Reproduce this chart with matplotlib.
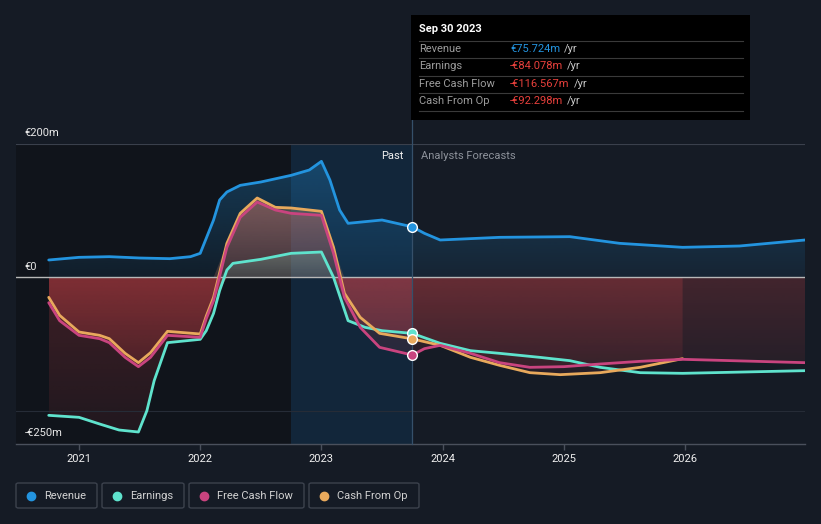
import numpy as np
import matplotlib
matplotlib.use("Agg")
import matplotlib.pyplot as plt
import matplotlib.colors as mcolors
from matplotlib.patches import Rectangle, FancyBboxPatch

plt.rcParams['font.family'] = ['Roboto', 'DejaVu Sans']

# data (decimal years, EUR millions)
rev_t = [2020.75, 2021.0, 2021.25, 2021.5, 2021.75, 2021.92, 2022.0, 2022.11, 2022.16, 2022.22,
         2022.33, 2022.5, 2022.75, 2022.9, 2023.0, 2023.07, 2023.15, 2023.22, 2023.5, 2023.75,
         2023.85, 2023.98, 2024.47, 2025.05, 2025.46, 2025.98, 2026.45, 2026.99]
rev_v = [26, 30, 31, 29, 28, 31, 36, 86, 116, 128,
         138, 143, 153, 161, 174, 146, 101, 81, 86, 75.724,
         66, 56, 60, 61, 51, 45, 47, 56]

earn_t = [2020.75, 2021.0, 2021.17, 2021.33, 2021.49, 2021.56, 2021.62, 2021.73, 2022.0, 2022.05,
          2022.11, 2022.16, 2022.22, 2022.27, 2022.5, 2022.75, 2023.0, 2023.1, 2023.22, 2023.36,
          2023.5, 2023.75, 2023.98, 2024.23, 2024.47, 2024.8, 2025.05, 2025.3, 2025.63, 2025.98,
          2026.99]
earn_v = [-207, -210, -220, -229, -232, -200, -155, -98, -93, -80,
          -54, -20, 11, 21, 27, 36, 38, 0, -65, -75,
          -80, -84.078, -99, -110, -114, -120, -125, -135, -143, -144,
          -140]

fcf_t = [2020.75, 2020.84, 2021.0, 2021.17, 2021.25, 2021.38, 2021.49, 2021.59, 2021.73, 2022.0,
         2022.05, 2022.11, 2022.22, 2022.33, 2022.47, 2022.62, 2022.75, 2023.0, 2023.1, 2023.19,
         2023.32, 2023.48, 2023.75, 2023.85, 2023.98, 2024.23, 2024.47, 2024.72, 2025.0, 2025.3,
         2025.63, 2025.98, 2026.99]
fcf_v = [-38, -65, -87, -92, -98, -120, -134, -120, -87, -90,
         -62, -35, 45, 90, 113, 101, 96, 93, 36, -30,
         -75, -105, -116.567, -107, -102, -114, -128, -135, -134, -130,
         -126, -123, -128]

cfo_t = [2020.75, 2020.84, 2021.0, 2021.17, 2021.25, 2021.38, 2021.49, 2021.59, 2021.73, 2022.0,
         2022.05, 2022.11, 2022.22, 2022.33, 2022.47, 2022.62, 2022.75, 2023.0, 2023.1, 2023.19,
         2023.32, 2023.48, 2023.75, 2023.98, 2024.23, 2024.47, 2024.72, 2024.97, 2025.3, 2025.63,
         2025.98]
cfo_v = [-30, -57, -82, -87, -92, -114, -128, -113, -81, -85,
         -58, -30, 51, 96, 119, 105, 104, 99, 45, -24,
         -60, -84, -92.298, -102, -120, -132, -143, -146, -143, -135,
         -122]

now = 2023.75
names = ["Revenue", "Earnings", "Free Cash Flow", "Cash From Op"]
tip_vals = ["€75.724m", "-€84.078m", "-€116.567m", "-€92.298m"]
years = [2021, 2022, 2023, 2024, 2025, 2026]

BG = "#151b25"
C_REV, C_EARN, C_FCF, C_CFO = "#2394df", "#5fe3cd", "#c9447f", "#e8a95c"
RED = "#e5484d"

W, H = 821, 524
fig = plt.figure(figsize=(W / 100, H / 100), dpi=100, facecolor=BG)


def px(x, y):
    return x / W, 1 - y / H


ax = fig.add_axes([16 / W, 1 - 444 / H, (805 - 16) / W, (444 - 144) / H])
ax.set_facecolor(BG)
XL = (2020.48, 2026.99)
YL = (-250, 200)


def grad_fill(t, v, color, a_zero, a_far, z=1):
    t = np.asarray(t, float)
    v = np.asarray(v, float)
    poly = ax.fill_between(t, 0, v, color="none", lw=0)
    path = poly.get_paths()[0]
    lo, hi = min(v.min(), 0), max(v.max(), 0)
    if hi - lo < 1e-6:
        return
    n = 128
    img = np.zeros((n, 1, 4))
    img[:, :, :3] = mcolors.to_rgb(color)
    if hi <= 0:
        img[:, 0, 3] = np.linspace(a_far, a_zero, n)
    else:
        img[:, 0, 3] = np.linspace(a_zero, a_far, n)
    im = ax.imshow(img, aspect="auto", extent=[t.min(), t.max(), lo, hi],
                   origin="lower", zorder=z, interpolation="bilinear")
    im.set_clip_path(path, ax.transData)


# background regions
ax.axvspan(XL[0], 2022.75, color="#10141b", zorder=0, lw=0)
ax.axvspan(2022.75, now, color="#12263a", zorder=0, lw=0)

# area fills
grad_fill(rev_t, rev_v, C_REV, 0.08, 0.30, z=1)

past = np.array(earn_t) <= now + 1e-9
et = np.array(earn_t)[past]
ev = np.array(earn_v)[past]
grad_fill(et, np.minimum(ev, 0), RED, 0.22, 0.08, z=2)
grad_fill(et, np.maximum(ev, 0), C_EARN, 0.12, 0.30, z=2)
for t, v, c in [(fcf_t, fcf_v, C_FCF), (cfo_t, cfo_v, C_CFO)]:
    grad_fill(t, np.minimum(v, 0), RED, 0.22, 0.08, z=2)
    grad_fill(t, np.maximum(v, 0), c, 0.12, 0.30, z=2)

# grid
ax.axhline(200, color="#3a404c", lw=0.8, zorder=3)
ax.axhline(-200, color="#262c37", lw=0.8, zorder=3)
ax.axhline(0, color="#b8b8b8", lw=1.0, zorder=4)

# lines
lw = 2.0
ax.plot(rev_t, rev_v, color=C_REV, lw=lw, zorder=6, solid_capstyle="round", solid_joinstyle="round")
ax.plot(earn_t, earn_v, color=C_EARN, lw=lw, zorder=6, solid_capstyle="round", solid_joinstyle="round")
ax.plot(cfo_t, cfo_v, color=C_CFO, lw=lw, zorder=6, solid_capstyle="round", solid_joinstyle="round")
ax.plot(fcf_t, fcf_v, color=C_FCF, lw=lw, zorder=6, solid_capstyle="round", solid_joinstyle="round")

for t, v, c in [(rev_t, rev_v, C_REV), (earn_t, earn_v, C_EARN),
                (fcf_t, fcf_v, C_FCF), (cfo_t, cfo_v, C_CFO)]:
    i = t.index(now)
    ax.plot([now], [v[i]], "o", ms=7, mfc=c, mec="white", mew=1.0, zorder=8)

# now line
ax.plot([now, now], [YL[0], 236], color="#35506a", lw=0.9, zorder=5, clip_on=False)

ax.set_xlim(*XL)
ax.set_ylim(*YL)

for s in ["top", "right", "left"]:
    ax.spines[s].set_visible(False)
ax.spines["bottom"].set_color("#4a505c")
ax.spines["bottom"].set_linewidth(1.0)
ax.set_yticks([])
ax.set_xticks(years)
ax.set_xticklabels([str(y) for y in years])
ax.tick_params(axis="x", colors="#4a505c", length=4, width=1, labelcolor="#f0f0f0",
               labelsize=8, pad=3)

# y labels
for val, lab in [(200, "€200m"), (0, "€0"), (-250, "-€250m")]:
    ax.annotate(lab, (XL[0], val), xytext=(6, 4), textcoords="offset points",
                color="#e8e8e8", fontsize=8, va="bottom", ha="left", zorder=9)

ax.annotate("Past", (now, 200), xytext=(-6, -5), textcoords="offset points",
            color="#f0f0f0", fontsize=8, ha="right", va="top", zorder=9)
ax.annotate("Analysts Forecasts", (now, 200), xytext=(6, -5), textcoords="offset points",
            color="#8d929b", fontsize=8, ha="left", va="top", zorder=9)

# tooltip
x0, y0 = px(411, 120)
x1, y1 = px(750, 15)
fig.add_artist(Rectangle((x0, y0), x1 - x0, y1 - y0, transform=fig.transFigure,
                         facecolor="black", edgecolor="none", zorder=10))
fig.text(*px(419, 29), "Sep 30 2023", color="white", fontsize=8, fontweight="bold",
         va="center", zorder=11)
row_y = [49, 66, 84, 101]
for yy in [41, 58, 76, 93, 111]:
    a, b = px(419, yy)
    c, _ = px(743, yy)
    fig.add_artist(plt.Line2D([a, c], [b, b], transform=fig.transFigure,
                              color="#3a3a3a", lw=0.8, zorder=11))
fig.canvas.draw()
rend = fig.canvas.get_renderer()
for k, (nm, val) in enumerate(zip(names, tip_vals)):
    fig.text(*px(419, row_y[k]), nm, color="#9c9c9c", fontsize=8, va="center", zorder=11)
    col = C_REV if k == 0 else "#e8403c"
    tv = fig.text(*px(510, row_y[k]), val, color=col, fontsize=8, va="center", zorder=11)
    bb = tv.get_window_extent(rend)
    fig.text((bb.x1 + 4) / W, px(0, row_y[k])[1], "/yr", color="#c8c8c8", fontsize=8,
             va="center", zorder=11)

# legend
boxes = [(16, 97), (102, 184), (189, 304), (309, 419)]
for (bx0, bx1), nm, c in zip(boxes, names, [C_REV, C_EARN, C_FCF, C_CFO]):
    a, b = px(bx0, 508)
    w = (bx1 - bx0) / W
    h = 25 / H
    fig.add_artist(FancyBboxPatch((a, b), w, h, boxstyle="round,pad=0,rounding_size=0.003",
                                  transform=fig.transFigure, facecolor="none",
                                  edgecolor="#3c424d", lw=1.0))
    fig.add_artist(plt.Line2D([px(bx0 + 15, 0)[0]], [px(0, 496)[1]], marker="o", ms=6,
                              color=c, mec=c, transform=fig.transFigure))
    fig.text(*px(bx0 + 28, 496), nm, color="#d2d2d2", fontsize=8, va="center")

fig.savefig("out.png", dpi=100, facecolor=BG)
